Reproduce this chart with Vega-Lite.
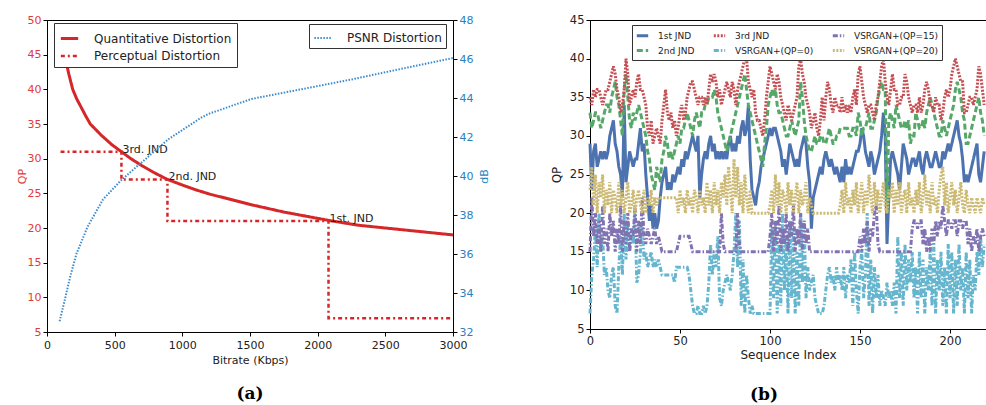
{
"$schema": "https://vega.github.io/schema/vega-lite/v6.json",
"background": "white",
"padding": {"left": 15, "top": 13, "right": 0, "bottom": 5},
"config": {
  "font": "DejaVu Sans",
  "view": {"stroke": "black", "strokeWidth": 1},
  "axis": {"grid": false, "domainColor": "black", "tickColor": "black", "labelFontSize": 11, "titleFontSize": 11, "titleFontWeight": "normal", "labelColor": "#222", "titleColor": "#222", "tickSize": 4, "labelOverlap": false, "labelFlush": false}
},
"datasets": {
  "red": [
    {"s":"Quantitative Distortion","o":1,"br":100,"qp":46.5},
    {"s":"Quantitative Distortion","o":2,"br":130,"qp":45},
    {"s":"Quantitative Distortion","o":3,"br":160,"qp":42.3},
    {"s":"Quantitative Distortion","o":4,"br":190,"qp":40},
    {"s":"Quantitative Distortion","o":5,"br":220,"qp":38.6},
    {"s":"Quantitative Distortion","o":6,"br":250,"qp":37.5},
    {"s":"Quantitative Distortion","o":7,"br":285,"qp":36.2},
    {"s":"Quantitative Distortion","o":8,"br":320,"qp":35},
    {"s":"Quantitative Distortion","o":9,"br":400,"qp":33.4},
    {"s":"Quantitative Distortion","o":10,"br":480,"qp":32},
    {"s":"Quantitative Distortion","o":11,"br":550,"qp":31},
    {"s":"Quantitative Distortion","o":12,"br":620,"qp":30},
    {"s":"Quantitative Distortion","o":13,"br":700,"qp":29},
    {"s":"Quantitative Distortion","o":14,"br":790,"qp":28},
    {"s":"Quantitative Distortion","o":15,"br":890,"qp":27},
    {"s":"Quantitative Distortion","o":16,"br":1000,"qp":26.2},
    {"s":"Quantitative Distortion","o":17,"br":1100,"qp":25.5},
    {"s":"Quantitative Distortion","o":18,"br":1200,"qp":24.9},
    {"s":"Quantitative Distortion","o":19,"br":1360,"qp":24.1},
    {"s":"Quantitative Distortion","o":20,"br":1500,"qp":23.4},
    {"s":"Quantitative Distortion","o":21,"br":1750,"qp":22.3},
    {"s":"Quantitative Distortion","o":22,"br":2080,"qp":21.1},
    {"s":"Quantitative Distortion","o":23,"br":2300,"qp":20.4},
    {"s":"Quantitative Distortion","o":24,"br":2500,"qp":20},
    {"s":"Quantitative Distortion","o":25,"br":2750,"qp":19.5},
    {"s":"Quantitative Distortion","o":26,"br":3000,"qp":19},
    {"s":"Perceptual Distortion","o":1,"br":100,"qp":31},
    {"s":"Perceptual Distortion","o":2,"br":550,"qp":31},
    {"s":"Perceptual Distortion","o":3,"br":550,"qp":27},
    {"s":"Perceptual Distortion","o":4,"br":890,"qp":27},
    {"s":"Perceptual Distortion","o":5,"br":890,"qp":21},
    {"s":"Perceptual Distortion","o":6,"br":2080,"qp":21},
    {"s":"Perceptual Distortion","o":7,"br":2080,"qp":7},
    {"s":"Perceptual Distortion","o":8,"br":3000,"qp":7}
  ],
  "jnd": [
    {"br":550,"qp":31,"t":"3rd. JND"},
    {"br":890,"qp":27,"t":"2nd. JND"},
    {"br":2080,"qp":21,"t":"1st. JND"}
  ],
  "psnr": [
    {"s":"PSNR Distortion","br":93,"db":32.55},
    {"s":"PSNR Distortion","br":130,"db":33.6},
    {"s":"PSNR Distortion","br":170,"db":34.8},
    {"s":"PSNR Distortion","br":217,"db":36.0},
    {"s":"PSNR Distortion","br":300,"db":37.4},
    {"s":"PSNR Distortion","br":414,"db":38.8},
    {"s":"PSNR Distortion","br":550,"db":39.8},
    {"s":"PSNR Distortion","br":783,"db":41.2},
    {"s":"PSNR Distortion","br":900,"db":41.9},
    {"s":"PSNR Distortion","br":1141,"db":43.0},
    {"s":"PSNR Distortion","br":1200,"db":43.2},
    {"s":"PSNR Distortion","br":1510,"db":43.95},
    {"s":"PSNR Distortion","br":1880,"db":44.45},
    {"s":"PSNR Distortion","br":2250,"db":44.95},
    {"s":"PSNR Distortion","br":2620,"db":45.5},
    {"s":"PSNR Distortion","br":3000,"db":46.05}
  ],
  "seq": [
{"i":0,"a":29,"b":33,"c":35,"d":7,"e":15,"f":23},
{"i":1,"a":23,"b":31,"c":34,"d":12,"e":22,"f":26},
{"i":2,"a":28,"b":32,"c":36,"d":14,"e":17,"f":21},
{"i":3,"a":29,"b":33,"c":35,"d":18,"e":20,"f":25},
{"i":4,"a":26,"b":33,"c":36,"d":13,"e":16,"f":20},
{"i":5,"a":27,"b":32,"c":36,"d":20,"e":19,"f":24},
{"i":6,"a":28,"b":31,"c":35,"d":15,"e":15,"f":22},
{"i":7,"a":27,"b":32,"c":34,"d":17,"e":21,"f":25},
{"i":8,"a":28,"b":33,"c":35,"d":12,"e":16,"f":20},
{"i":9,"a":27,"b":34,"c":36,"d":13,"e":18,"f":23},
{"i":10,"a":28,"b":34,"c":36,"d":10,"e":15,"f":21},
{"i":11,"a":30,"b":33,"c":37,"d":9,"e":20,"f":24},
{"i":12,"a":31,"b":35,"c":38,"d":12,"e":17,"f":20},
{"i":13,"a":32,"b":36,"c":39,"d":13,"e":19,"f":23},
{"i":14,"a":29,"b":37,"c":38,"d":8,"e":15,"f":22},
{"i":15,"a":28,"b":35,"c":36,"d":7,"e":18,"f":20},
{"i":16,"a":26,"b":34,"c":35,"d":13,"e":16,"f":24},
{"i":17,"a":25,"b":32,"c":33,"d":17,"e":21,"f":21},
{"i":18,"a":22,"b":30,"c":34,"d":12,"e":15,"f":23},
{"i":19,"a":34,"b":36,"c":36,"d":20,"e":19,"f":20},
{"i":20,"a":24,"b":38,"c":40,"d":14,"e":16,"f":22},
{"i":21,"a":26,"b":35,"c":38,"d":19,"e":20,"f":24},
{"i":22,"a":28,"b":32,"c":34,"d":15,"e":15,"f":20},
{"i":23,"a":27,"b":31,"c":35,"d":18,"e":18,"f":21},
{"i":24,"a":26,"b":33,"c":36,"d":16,"e":17,"f":23},
{"i":25,"a":27,"b":32,"c":35,"d":20,"e":21,"f":20},
{"i":26,"a":27,"b":33,"c":37,"d":11,"e":15,"f":22},
{"i":27,"a":29,"b":34,"c":38,"d":12,"e":19,"f":23},
{"i":28,"a":31,"b":33,"c":36,"d":15,"e":16,"f":21},
{"i":29,"a":28,"b":32,"c":36,"d":19,"e":22,"f":20},
{"i":30,"a":29,"b":31,"c":35,"d":14,"e":17,"f":23},
{"i":31,"a":25,"b":30,"c":34,"d":15,"e":16,"f":20},
{"i":32,"a":22,"b":28,"c":31,"d":13,"e":18,"f":22},
{"i":33,"a":19,"b":27,"c":30,"d":14,"e":17,"f":21},
{"i":34,"a":21,"b":25,"c":32,"d":15,"e":16,"f":23},
{"i":35,"a":18,"b":24,"c":29,"d":13,"e":17,"f":20},
{"i":36,"a":20,"b":23,"c":30,"d":14,"e":18,"f":22},
{"i":37,"a":18,"b":26,"c":31,"d":13,"e":16,"f":21},
{"i":38,"a":19,"b":25,"c":30,"d":14,"e":17,"f":22},
{"i":39,"a":22,"b":24,"c":29,"d":13,"e":16,"f":22},
{"i":40,"a":24,"b":27,"c":32,"d":12,"e":15,"f":22},
{"i":41,"a":25,"b":28,"c":34,"d":12,"e":15,"f":22},
{"i":42,"a":26,"b":30,"c":36,"d":12,"e":15,"f":22},
{"i":43,"a":23,"b":29,"c":33,"d":12,"e":15,"f":22},
{"i":44,"a":24,"b":27,"c":32,"d":12,"e":15,"f":22},
{"i":45,"a":23,"b":28,"c":33,"d":12,"e":15,"f":22},
{"i":46,"a":25,"b":27,"c":31,"d":12,"e":15,"f":22},
{"i":47,"a":24,"b":28,"c":32,"d":11,"e":15,"f":22},
{"i":48,"a":25,"b":29,"c":30,"d":13,"e":15,"f":22},
{"i":49,"a":26,"b":30,"c":31,"d":13,"e":16,"f":20},
{"i":50,"a":25,"b":29,"c":33,"d":13,"e":17,"f":23},
{"i":51,"a":27,"b":31,"c":34,"d":13,"e":17,"f":21},
{"i":52,"a":26,"b":31,"c":32,"d":13,"e":17,"f":22},
{"i":53,"a":28,"b":32,"c":33,"d":13,"e":17,"f":20},
{"i":54,"a":27,"b":33,"c":35,"d":13,"e":17,"f":23},
{"i":55,"a":28,"b":32,"c":36,"d":12,"e":17,"f":21},
{"i":56,"a":29,"b":31,"c":37,"d":10,"e":16,"f":22},
{"i":57,"a":30,"b":30,"c":37,"d":8,"e":15,"f":20},
{"i":58,"a":29,"b":32,"c":36,"d":7,"e":15,"f":23},
{"i":59,"a":28,"b":33,"c":35,"d":7,"e":15,"f":22},
{"i":60,"a":30,"b":32,"c":34,"d":8,"e":15,"f":20},
{"i":61,"a":22,"b":31,"c":35,"d":7,"e":15,"f":23},
{"i":62,"a":25,"b":33,"c":35,"d":7,"e":15,"f":21},
{"i":63,"a":27,"b":33,"c":34,"d":8,"e":15,"f":22},
{"i":64,"a":28,"b":34,"c":35,"d":7,"e":15,"f":20},
{"i":65,"a":27,"b":34,"c":34,"d":8,"e":15,"f":24},
{"i":66,"a":29,"b":35,"c":36,"d":11,"e":15,"f":21},
{"i":67,"a":30,"b":35,"c":38,"d":16,"e":15,"f":23},
{"i":68,"a":28,"b":35,"c":37,"d":12,"e":15,"f":20},
{"i":69,"a":29,"b":36,"c":38,"d":15,"e":15,"f":24},
{"i":70,"a":27,"b":35,"c":37,"d":13,"e":15,"f":21},
{"i":71,"a":28,"b":33,"c":35,"d":17,"e":15,"f":23},
{"i":72,"a":27,"b":32,"c":36,"d":9,"e":15,"f":20},
{"i":73,"a":28,"b":31,"c":34,"d":8,"e":20,"f":24},
{"i":74,"a":27,"b":30,"c":35,"d":10,"e":16,"f":22},
{"i":75,"a":28,"b":29,"c":36,"d":11,"e":15,"f":25},
{"i":76,"a":27,"b":28,"c":37,"d":12,"e":15,"f":21},
{"i":77,"a":29,"b":29,"c":36,"d":11,"e":15,"f":26},
{"i":78,"a":30,"b":30,"c":35,"d":10,"e":15,"f":23},
{"i":79,"a":28,"b":31,"c":37,"d":12,"e":15,"f":20},
{"i":80,"a":29,"b":32,"c":36,"d":15,"e":15,"f":27},
{"i":81,"a":28,"b":33,"c":34,"d":20,"e":15,"f":22},
{"i":82,"a":30,"b":34,"c":36,"d":13,"e":20,"f":26},
{"i":83,"a":29,"b":35,"c":37,"d":19,"e":16,"f":21},
{"i":84,"a":31,"b":36,"c":38,"d":8,"e":15,"f":24},
{"i":85,"a":32,"b":37,"c":39,"d":14,"e":15,"f":20},
{"i":86,"a":30,"b":38,"c":40,"d":7,"e":15,"f":25},
{"i":87,"a":31,"b":36,"c":40,"d":12,"e":15,"f":22},
{"i":88,"a":34,"b":34,"c":37,"d":9,"e":15,"f":20},
{"i":89,"a":27,"b":33,"c":36,"d":7,"e":15,"f":23},
{"i":90,"a":23,"b":32,"c":35,"d":8,"e":15,"f":20},
{"i":91,"a":22,"b":31,"c":36,"d":7,"e":15,"f":20},
{"i":92,"a":21,"b":30,"c":33,"d":7,"e":15,"f":20},
{"i":93,"a":23,"b":29,"c":32,"d":7,"e":15,"f":20},
{"i":94,"a":24,"b":28,"c":32,"d":7,"e":15,"f":20},
{"i":95,"a":26,"b":27,"c":31,"d":7,"e":15,"f":20},
{"i":96,"a":27,"b":26,"c":30,"d":7,"e":15,"f":20},
{"i":97,"a":28,"b":29,"c":32,"d":7,"e":15,"f":20},
{"i":98,"a":29,"b":31,"c":35,"d":7,"e":15,"f":20},
{"i":99,"a":30,"b":34,"c":37,"d":7,"e":15,"f":20},
{"i":100,"a":31,"b":35,"c":39,"d":7,"e":17,"f":21},
{"i":101,"a":30,"b":36,"c":38,"d":18,"e":20,"f":23},
{"i":102,"a":31,"b":35,"c":37,"d":9,"e":15,"f":20},
{"i":103,"a":31,"b":36,"c":36,"d":19,"e":19,"f":25},
{"i":104,"a":30,"b":34,"c":38,"d":7,"e":16,"f":21},
{"i":105,"a":29,"b":33,"c":37,"d":16,"e":21,"f":24},
{"i":106,"a":28,"b":33,"c":35,"d":8,"e":15,"f":20},
{"i":107,"a":26,"b":32,"c":34,"d":20,"e":18,"f":23},
{"i":108,"a":27,"b":31,"c":33,"d":10,"e":16,"f":22},
{"i":109,"a":25,"b":30,"c":32,"d":17,"e":20,"f":20},
{"i":110,"a":27,"b":30,"c":34,"d":7,"e":15,"f":24},
{"i":111,"a":29,"b":31,"c":33,"d":19,"e":19,"f":21},
{"i":112,"a":28,"b":32,"c":32,"d":9,"e":17,"f":23},
{"i":113,"a":27,"b":31,"c":33,"d":18,"e":21,"f":20},
{"i":114,"a":26,"b":30,"c":34,"d":7,"e":15,"f":22},
{"i":115,"a":27,"b":31,"c":35,"d":15,"e":18,"f":24},
{"i":116,"a":26,"b":32,"c":39,"d":8,"e":16,"f":20},
{"i":117,"a":28,"b":37,"c":40,"d":20,"e":20,"f":23},
{"i":118,"a":29,"b":35,"c":38,"d":11,"e":15,"f":21},
{"i":119,"a":30,"b":32,"c":37,"d":19,"e":19,"f":22},
{"i":120,"a":29,"b":30,"c":35,"d":9,"e":16,"f":24},
{"i":121,"a":26,"b":29,"c":34,"d":13,"e":18,"f":20},
{"i":122,"a":24,"b":28,"c":33,"d":10,"e":15,"f":22},
{"i":123,"a":18,"b":28,"c":31,"d":11,"e":15,"f":21},
{"i":124,"a":22,"b":29,"c":32,"d":12,"e":15,"f":20},
{"i":125,"a":23,"b":30,"c":33,"d":9,"e":15,"f":20},
{"i":126,"a":24,"b":29,"c":31,"d":8,"e":15,"f":20},
{"i":127,"a":25,"b":29,"c":30,"d":7,"e":15,"f":20},
{"i":128,"a":26,"b":30,"c":32,"d":7,"e":15,"f":20},
{"i":129,"a":25,"b":30,"c":35,"d":7,"e":15,"f":20},
{"i":130,"a":27,"b":29,"c":32,"d":8,"e":15,"f":20},
{"i":131,"a":28,"b":29,"c":35,"d":10,"e":15,"f":20},
{"i":132,"a":27,"b":30,"c":37,"d":12,"e":15,"f":20},
{"i":133,"a":26,"b":31,"c":36,"d":13,"e":15,"f":20},
{"i":134,"a":27,"b":30,"c":34,"d":11,"e":15,"f":20},
{"i":135,"a":26,"b":29,"c":33,"d":12,"e":15,"f":20},
{"i":136,"a":25,"b":29,"c":35,"d":10,"e":15,"f":20},
{"i":137,"a":26,"b":30,"c":34,"d":13,"e":15,"f":20},
{"i":138,"a":25,"b":30,"c":34,"d":11,"e":15,"f":20},
{"i":139,"a":24,"b":31,"c":33,"d":12,"e":15,"f":21},
{"i":140,"a":26,"b":31,"c":35,"d":10,"e":15,"f":23},
{"i":141,"a":24,"b":31,"c":33,"d":13,"e":15,"f":20},
{"i":142,"a":27,"b":31,"c":34,"d":9,"e":15,"f":24},
{"i":143,"a":25,"b":31,"c":33,"d":12,"e":15,"f":21},
{"i":144,"a":26,"b":30,"c":34,"d":11,"e":15,"f":22},
{"i":145,"a":25,"b":30,"c":33,"d":14,"e":15,"f":20},
{"i":146,"a":26,"b":31,"c":35,"d":8,"e":15,"f":23},
{"i":147,"a":27,"b":31,"c":36,"d":15,"e":15,"f":21},
{"i":148,"a":28,"b":30,"c":34,"d":10,"e":15,"f":24},
{"i":149,"a":28,"b":33,"c":38,"d":7,"e":15,"f":20},
{"i":150,"a":29,"b":32,"c":39,"d":13,"e":17,"f":22},
{"i":151,"a":31,"b":30,"c":37,"d":15,"e":15,"f":24},
{"i":152,"a":30,"b":31,"c":35,"d":9,"e":18,"f":20},
{"i":153,"a":28,"b":31,"c":34,"d":12,"e":16,"f":23},
{"i":154,"a":27,"b":32,"c":33,"d":20,"e":19,"f":21},
{"i":155,"a":26,"b":33,"c":34,"d":8,"e":15,"f":25},
{"i":156,"a":28,"b":31,"c":34,"d":14,"e":18,"f":22},
{"i":157,"a":27,"b":31,"c":33,"d":7,"e":17,"f":20},
{"i":158,"a":25,"b":32,"c":32,"d":13,"e":20,"f":24},
{"i":159,"a":26,"b":33,"c":34,"d":9,"e":21,"f":21},
{"i":160,"a":27,"b":35,"c":35,"d":12,"e":16,"f":23},
{"i":161,"a":28,"b":36,"c":37,"d":8,"e":15,"f":20},
{"i":162,"a":30,"b":37,"c":39,"d":10,"e":15,"f":22},
{"i":163,"a":33,"b":36,"c":40,"d":9,"e":15,"f":24},
{"i":164,"a":30,"b":36,"c":37,"d":8,"e":15,"f":21},
{"i":165,"a":16,"b":20,"c":35,"d":11,"e":15,"f":20},
{"i":166,"a":22,"b":32,"c":34,"d":9,"e":15,"f":23},
{"i":167,"a":27,"b":33,"c":36,"d":10,"e":15,"f":22},
{"i":168,"a":28,"b":32,"c":38,"d":8,"e":15,"f":24},
{"i":169,"a":27,"b":31,"c":36,"d":11,"e":15,"f":20},
{"i":170,"a":26,"b":34,"c":36,"d":7,"e":15,"f":23},
{"i":171,"a":25,"b":33,"c":34,"d":17,"e":15,"f":21},
{"i":172,"a":23,"b":32,"c":34,"d":9,"e":15,"f":24},
{"i":173,"a":26,"b":31,"c":35,"d":15,"e":15,"f":20},
{"i":174,"a":29,"b":31,"c":35,"d":8,"e":15,"f":22},
{"i":175,"a":28,"b":32,"c":38,"d":16,"e":15,"f":23},
{"i":176,"a":27,"b":31,"c":37,"d":10,"e":15,"f":20},
{"i":177,"a":25,"b":32,"c":35,"d":14,"e":15,"f":24},
{"i":178,"a":26,"b":29,"c":34,"d":11,"e":15,"f":21},
{"i":179,"a":27,"b":30,"c":33,"d":15,"e":18,"f":22},
{"i":180,"a":27,"b":30,"c":34,"d":9,"e":19,"f":20},
{"i":181,"a":26,"b":33,"c":34,"d":13,"e":19,"f":23},
{"i":182,"a":27,"b":32,"c":33,"d":7,"e":18,"f":21},
{"i":183,"a":28,"b":31,"c":35,"d":15,"e":19,"f":24},
{"i":184,"a":26,"b":31,"c":33,"d":9,"e":19,"f":20},
{"i":185,"a":25,"b":32,"c":34,"d":14,"e":16,"f":22},
{"i":186,"a":27,"b":31,"c":36,"d":7,"e":18,"f":25},
{"i":187,"a":28,"b":33,"c":37,"d":13,"e":15,"f":21},
{"i":188,"a":27,"b":34,"c":36,"d":10,"e":17,"f":23},
{"i":189,"a":26,"b":35,"c":34,"d":15,"e":15,"f":20},
{"i":190,"a":26,"b":34,"c":34,"d":8,"e":18,"f":24},
{"i":191,"a":27,"b":33,"c":33,"d":16,"e":16,"f":21},
{"i":192,"a":28,"b":32,"c":35,"d":7,"e":19,"f":22},
{"i":193,"a":27,"b":31,"c":34,"d":14,"e":17,"f":20},
{"i":194,"a":26,"b":30,"c":34,"d":10,"e":19,"f":23},
{"i":195,"a":26,"b":30,"c":32,"d":15,"e":18,"f":25},
{"i":196,"a":28,"b":32,"c":33,"d":8,"e":21,"f":26},
{"i":197,"a":27,"b":31,"c":35,"d":13,"e":19,"f":21},
{"i":198,"a":28,"b":30,"c":36,"d":7,"e":17,"f":24},
{"i":199,"a":29,"b":31,"c":35,"d":16,"e":19,"f":20},
{"i":200,"a":28,"b":32,"c":36,"d":9,"e":19,"f":22},
{"i":201,"a":29,"b":33,"c":38,"d":15,"e":18,"f":24},
{"i":202,"a":30,"b":34,"c":39,"d":7,"e":19,"f":21},
{"i":203,"a":31,"b":36,"c":40,"d":14,"e":19,"f":23},
{"i":204,"a":32,"b":37,"c":39,"d":8,"e":17,"f":20},
{"i":205,"a":30,"b":36,"c":38,"d":16,"e":19,"f":22},
{"i":206,"a":29,"b":35,"c":37,"d":10,"e":19,"f":24},
{"i":207,"a":27,"b":33,"c":37,"d":13,"e":18,"f":21},
{"i":208,"a":24,"b":32,"c":33,"d":7,"e":19,"f":20},
{"i":209,"a":25,"b":29,"c":33,"d":15,"e":19,"f":23},
{"i":210,"a":24,"b":29,"c":34,"d":9,"e":16,"f":21},
{"i":211,"a":25,"b":30,"c":35,"d":14,"e":18,"f":20},
{"i":212,"a":26,"b":31,"c":35,"d":7,"e":15,"f":22},
{"i":213,"a":27,"b":32,"c":34,"d":12,"e":17,"f":21},
{"i":214,"a":28,"b":33,"c":35,"d":10,"e":16,"f":20},
{"i":215,"a":29,"b":34,"c":36,"d":15,"e":18,"f":22},
{"i":216,"a":25,"b":35,"c":39,"d":12,"e":15,"f":21},
{"i":217,"a":24,"b":33,"c":38,"d":17,"e":17,"f":20},
{"i":218,"a":26,"b":32,"c":36,"d":13,"e":18,"f":22},
{"i":219,"a":28,"b":30,"c":34,"d":16,"e":17,"f":21}
  ]
},
"spacing": 58,
"hconcat": [
  {
    "width": 406,
    "height": 312,
    "title": {"text": "(a)", "orient": "bottom", "font": "DejaVu Serif", "fontSize": 17, "fontWeight": "bold", "color": "black", "offset": 21},
    "resolve": {"scale": {"y": "independent", "color": "independent", "strokeDash": "independent", "strokeWidth": "independent"}, "legend": {"color": "independent", "strokeDash": "independent"}},
    "layer": [
      {
        "layer": [
          {
            "data": {"name": "red"},
            "mark": {"type": "line"},
            "encoding": {
              "x": {"field": "br", "type": "quantitative", "scale": {"domain": [0, 3000], "nice": false}, "axis": {"title": "Bitrate (Kbps)", "format": "d", "values": [0, 500, 1000, 1500, 2000, 2500, 3000], "labelPadding": 3, "titlePadding": 4}},
              "y": {"field": "qp", "type": "quantitative", "scale": {"domain": [5, 50], "nice": false, "zero": false}, "axis": {"title": "QP", "values": [5, 10, 15, 20, 25, 30, 35, 40, 45, 50], "labelOverlap": false, "labelFlush": false, "labelBound": false, "labelColor": "#e03a3a", "titleColor": "#e03a3a", "titlePadding": 0}},
              "color": {"field": "s", "type": "nominal", "scale": {"domain": ["Quantitative Distortion", "Perceptual Distortion"], "range": ["#d62728", "#d62728"]},
                "legend": {"title": null, "orient": "none", "legendX": 7, "legendY": 3, "symbolType": "stroke", "symbolSize": 300, "symbolStrokeWidth": 3, "labelFontSize": 12, "labelColor": "#222", "strokeColor": "#333", "fillColor": "white", "padding": 5, "rowPadding": 1, "labelOffset": 14}},
              "strokeDash": {"field": "s", "type": "nominal", "scale": {"domain": ["Quantitative Distortion", "Perceptual Distortion"], "range": [[1, 0], [4, 3, 2, 3]]}},
              "strokeWidth": {"field": "s", "type": "nominal", "scale": {"domain": ["Quantitative Distortion", "Perceptual Distortion"], "range": [3, 2.5]}, "legend": null},
              "order": {"field": "o", "type": "quantitative"}
            }
          },
          {
            "data": {"name": "jnd"},
            "mark": {"type": "text", "align": "left", "baseline": "alphabetic", "dx": 1, "dy": 1, "fontSize": 11, "color": "#222"},
            "encoding": {
              "x": {"field": "br", "type": "quantitative", "axis": {"title": "Bitrate (Kbps)", "format": "d", "values": [0, 500, 1000, 1500, 2000, 2500, 3000], "labelPadding": 3, "titlePadding": 4}},
              "y": {"field": "qp", "type": "quantitative", "axis": {"title": "QP", "values": [5, 10, 15, 20, 25, 30, 35, 40, 45, 50], "labelOverlap": false, "labelFlush": false, "labelBound": false, "labelColor": "#e03a3a", "titleColor": "#e03a3a", "titlePadding": 0}},
              "text": {"field": "t"}
            }
          }
        ]
      },
      {
        "data": {"name": "psnr"},
        "mark": {"type": "line", "strokeWidth": 2},
        "encoding": {
          "x": {"field": "br", "type": "quantitative", "axis": {"title": "Bitrate (Kbps)", "format": "d", "values": [0, 500, 1000, 1500, 2000, 2500, 3000], "labelPadding": 3, "titlePadding": 4}},
          "y": {"field": "db", "type": "quantitative", "scale": {"domain": [32, 48], "nice": false, "zero": false}, "axis": {"orient": "right", "title": "dB", "titleAngle": 270, "titleBaseline": "top", "values": [32, 34, 36, 38, 40, 42, 44, 46, 48], "labelOverlap": false, "labelFlush": false, "labelColor": "#2a7fc0", "titleColor": "#2a7fc0", "titlePadding": 6}},
          "color": {"field": "s", "type": "nominal", "scale": {"domain": ["PSNR Distortion"], "range": ["#3b8bd0"]},
            "legend": {"title": null, "orient": "none", "legendX": 262, "legendY": 4, "symbolType": "stroke", "symbolSize": 300, "symbolStrokeWidth": 2, "labelFontSize": 12, "labelColor": "#222", "strokeColor": "#333", "fillColor": "white", "padding": 4, "labelOffset": 14}},
          "strokeDash": {"field": "s", "type": "nominal", "scale": {"domain": ["PSNR Distortion"], "range": [[1.5, 1.5]]}}
        }
      }
    ]
  },
  {
    "width": 396,
    "height": 309,
    "title": {"text": "(b)", "orient": "bottom", "font": "DejaVu Serif", "fontSize": 17, "fontWeight": "bold", "color": "black", "offset": 26, "dx": -24},
    "data": {"name": "seq"},
    "transform": [{"fold": ["a", "b", "c", "d", "e", "f"], "as": ["k", "v"]}],
    "mark": {"type": "line"},
    "encoding": {
      "x": {"field": "i", "type": "quantitative", "scale": {"domain": [0, 220], "nice": false}, "axis": {"title": "Sequence Index", "values": [0, 50, 100, 150, 200], "labelFontSize": 11.5, "titleFontSize": 12, "titlePadding": 3}},
      "y": {"field": "v", "type": "quantitative", "scale": {"domain": [5, 45], "nice": false, "zero": false}, "axis": {"title": "QP", "values": [5, 10, 15, 20, 25, 30, 35, 40, 45], "labelFontSize": 11.5, "titleFontSize": 12, "titlePadding": 6}},
      "color": {"field": "k", "type": "nominal", "scale": {"domain": ["a", "b", "c", "d", "e", "f"], "range": ["#4c72b0", "#55a868", "#c44e52", "#64b5cd", "#8172b2", "#ccb974"]},
        "legend": {"title": null, "orient": "none", "legendX": 585, "legendY": 5, "columns": 3, "columnPadding": 12, "rowPadding": 1, "symbolType": "stroke", "symbolSize": 130, "symbolStrokeWidth": 1.5, "labelFontSize": 9, "labelColor": "#222", "strokeColor": "#333", "fillColor": "white", "padding": 3, "labelOffset": 8,
          "labelExpr": "{'a':'1st JND','b':'2nd JND','c':'3rd JND','d':'VSRGAN+(QP=0)','e':'VSRGAN+(QP=15)','f':'VSRGAN+(QP=20)'}[datum.label]"}},
      "strokeDash": {"field": "k", "type": "nominal", "scale": {"domain": ["a", "b", "c", "d", "e", "f"], "range": [[1, 0], [6, 3], [2, 1.5], [5, 2, 1.5, 2], [5, 2, 1.5, 2], [2, 1.5]]}},
      "strokeWidth": {"field": "k", "type": "nominal", "scale": {"domain": ["a", "b", "c", "d", "e", "f"], "range": [3, 3, 2.5, 2.5, 2.5, 2.5]}, "legend": null}
    }
  }
]
}
